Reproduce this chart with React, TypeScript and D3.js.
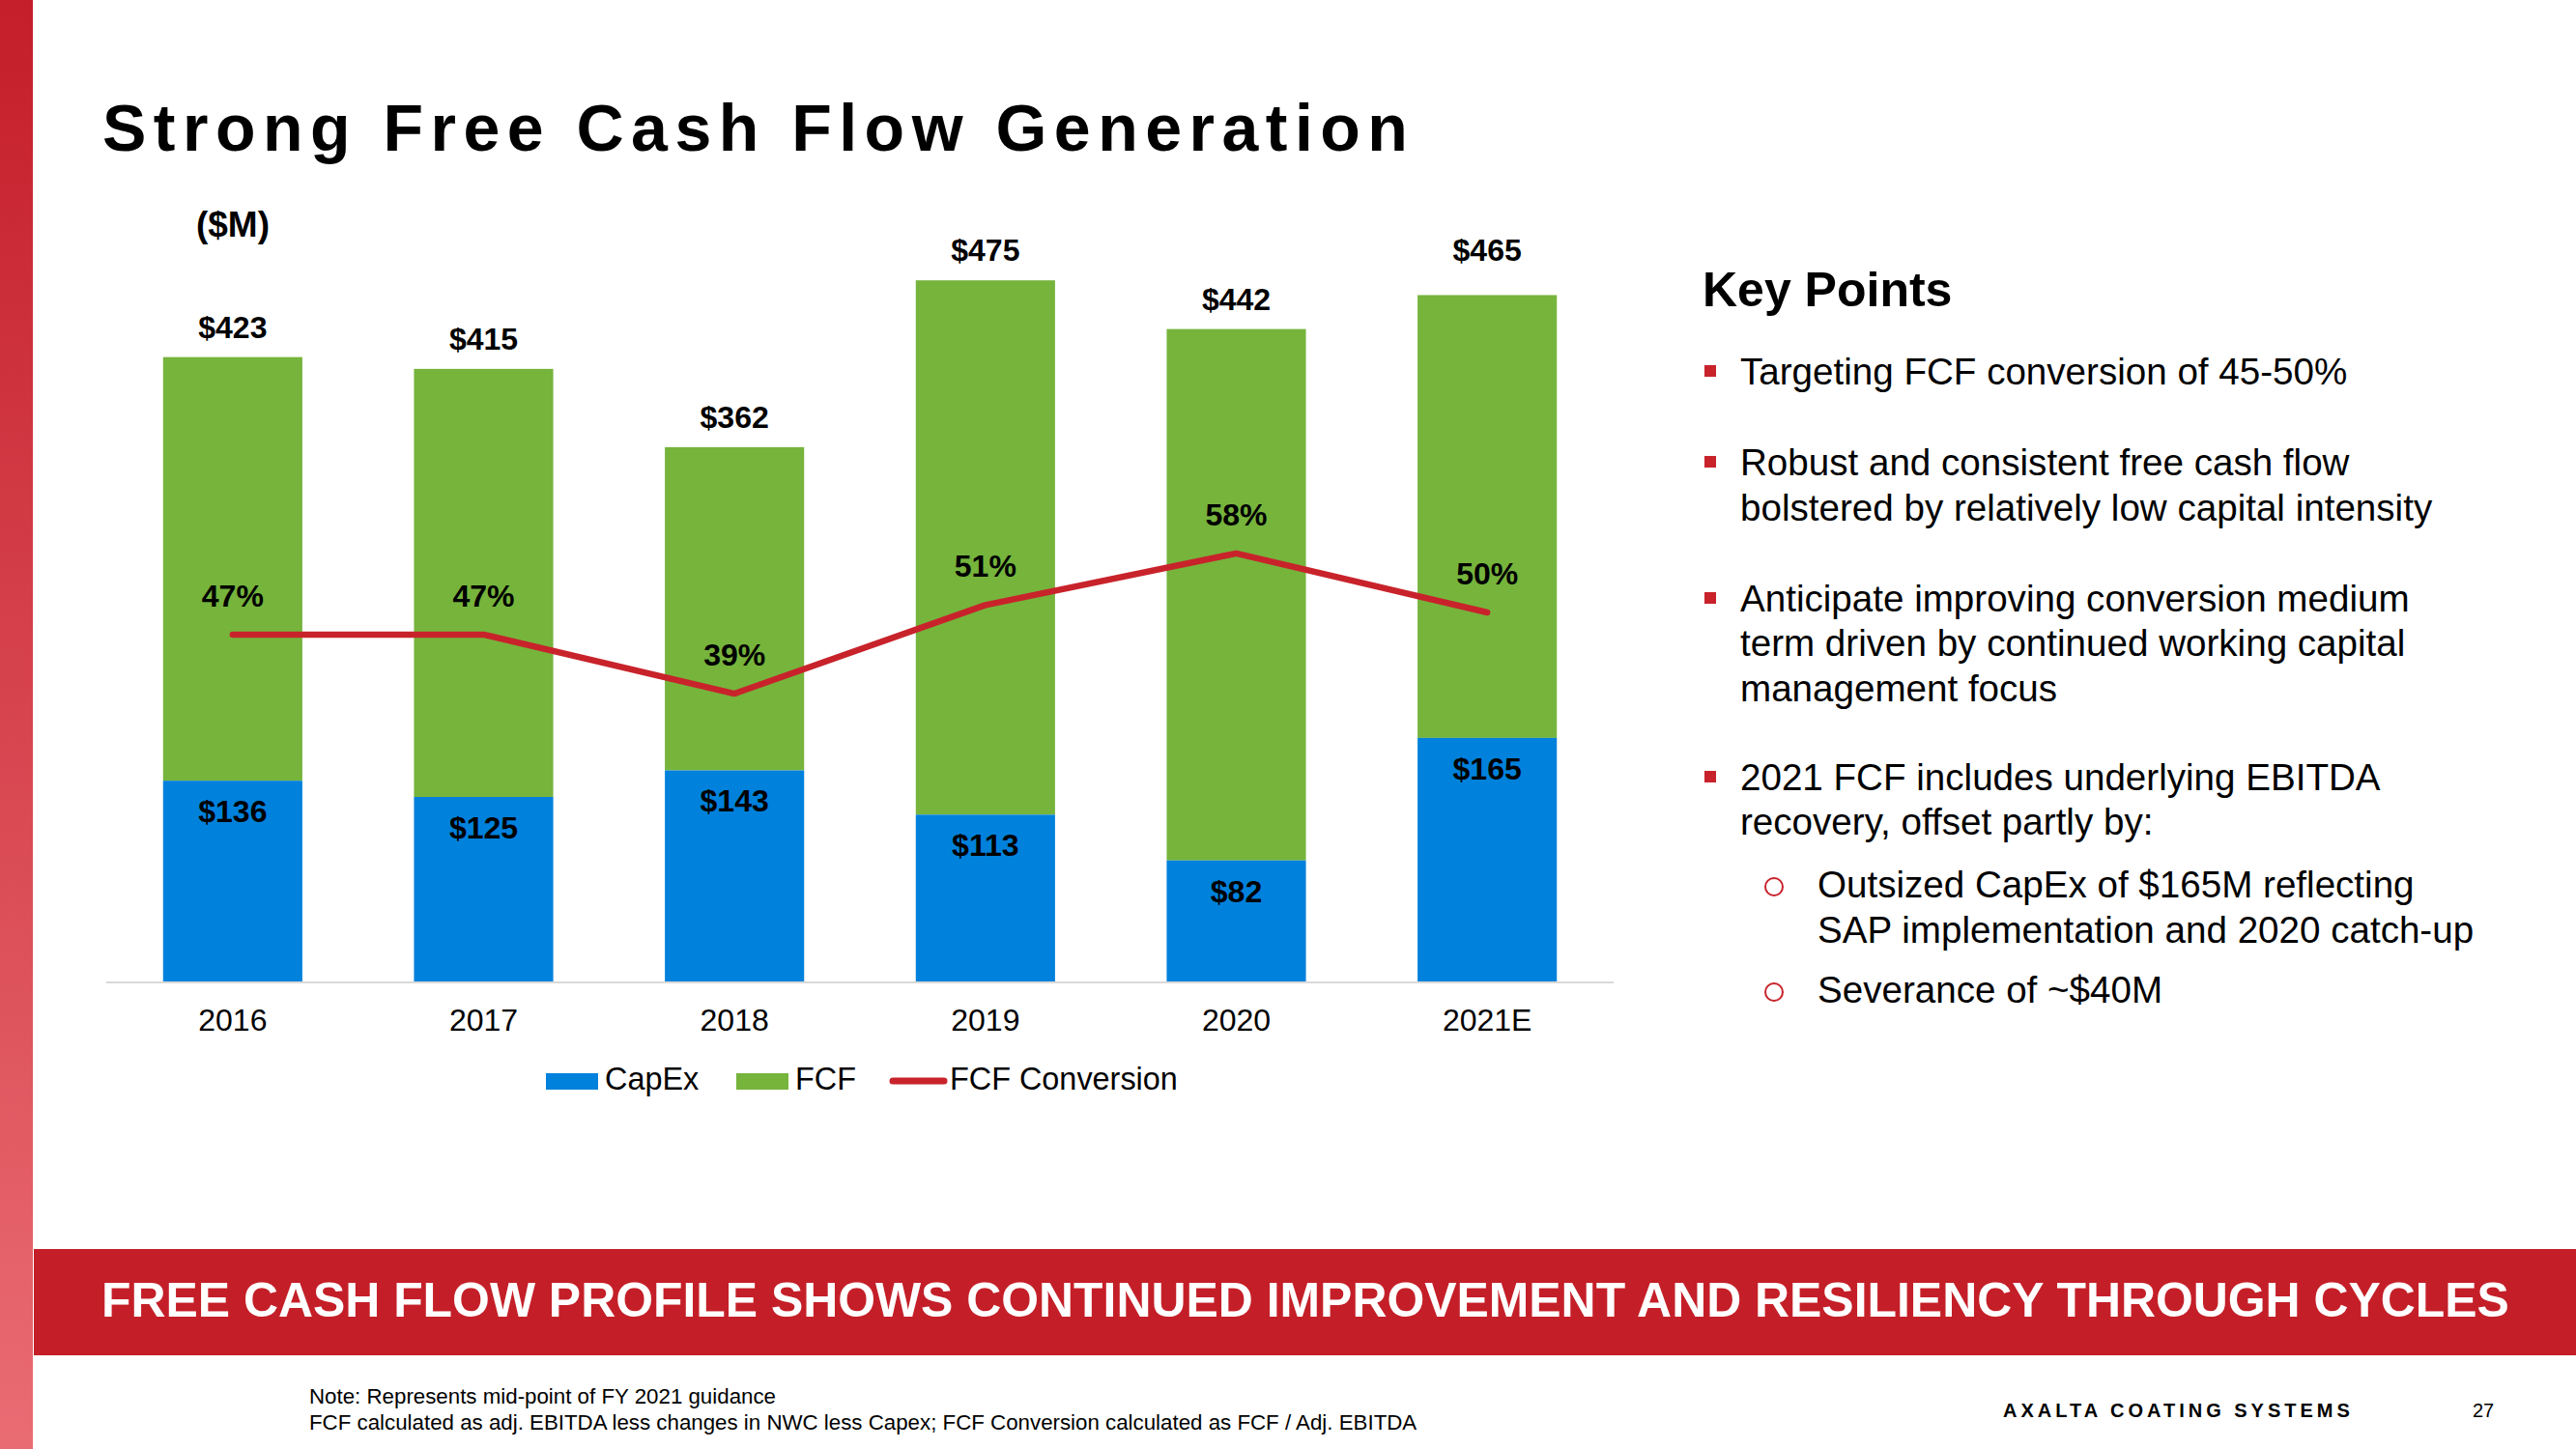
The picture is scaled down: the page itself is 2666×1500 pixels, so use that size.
import React from "react";
import * as d3 from "d3";

const years = ["2016", "2017", "2018", "2019", "2020", "2021E"];
const capex = [136, 125, 143, 113, 82, 165];
const fcf = [287, 290, 219, 362, 360, 300];
const totals = [423, 415, 362, 475, 442, 465];
const conversion = [47, 47, 39, 51, 58, 50];

const bullets = [
  ["Targeting FCF conversion of 45-50%"],
  ["Robust and consistent free cash flow", "bolstered by relatively low capital intensity"],
  ["Anticipate improving conversion medium", "term driven by continued working capital", "management focus"],
  ["2021 FCF includes underlying EBITDA", "recovery, offset partly by:"],
];
const subBullets = [
  ["Outsized CapEx of $165M reflecting", "SAP implementation and 2020 catch-up"],
  ["Severance of ~$40M"],
];

const FONT = "'Liberation Sans', Arial, Helvetica, sans-serif";
const BLUE = "#0081DC";
const GREEN = "#76B43C";
const RED = "#C8232B";
const BANNER = "#C41F28";

export default function App() {
  const W = 2666, H = 1500;
  const plotLeft = 111, plotRight = 1669, plotBottom = 1016, plotTop = 252;
  const x = d3.scaleBand<string>().domain(years).range([plotLeft, plotRight]).paddingInner(0.445).paddingOuter(0.2225);
  const y = d3.scaleLinear().domain([0, 500]).range([plotBottom, plotTop]);
  const y2 = d3.scaleLinear().domain([0, 100]).range([plotBottom, plotTop]);
  const cx = (i: number) => (x(years[i]) as number) + x.bandwidth() / 2;
  const line = d3.line<number>().x((_, i) => cx(i)).y((d) => y2(d));

  const bulletBaselines = [[398], [492, 539], [633, 679, 726], [818, 864]];
  const subBaselines = [[929, 976], [1038]];

  // the last total label sits level with the tallest one in the original
  const totalLabelY = (i: number) =>
    i === years.length - 1 ? y(capex[3] + fcf[3]) - 20 : y(capex[i] + fcf[i]) - 20;

  return (
    <svg width={W} height={H} style={{ position: "absolute", left: 0, top: 0, display: "block", background: "#fff" }} fontFamily={FONT}>
      <defs>
        <linearGradient id="stripe" x1="0" y1="0" x2="0" y2="1">
          <stop offset="0" stopColor="#C41E2A" />
          <stop offset="1" stopColor="#EA6C73" />
        </linearGradient>
      </defs>
      <rect x={0} y={0} width={W} height={H} fill="#fff" />
      <rect x={0} y={0} width={34} height={H} fill="url(#stripe)" />

      {/* Title */}
      <text x={106} y={156} fontSize={68} fontWeight="bold" letterSpacing={7.5} fill="#000">
        Strong Free Cash Flow Generation
      </text>
      <text x={241} y={245} fontSize={37} fontWeight="bold" textAnchor="middle" fill="#000">($M)</text>

      {/* Bars */}
      {years.map((yr, i) => (
        <g key={yr}>
          <rect x={x(yr)} y={y(capex[i] + fcf[i])} width={x.bandwidth()} height={y(capex[i]) - y(capex[i] + fcf[i])} fill={GREEN} />
          <rect x={x(yr)} y={y(capex[i])} width={x.bandwidth()} height={y(0) - y(capex[i])} fill={BLUE} />
          <text x={cx(i)} y={totalLabelY(i)} fontSize={32} fontWeight="bold" textAnchor="middle">${totals[i]}</text>
          <text x={cx(i)} y={y(capex[i]) + 43} fontSize={32} fontWeight="bold" textAnchor="middle">${capex[i]}</text>
          <text x={cx(i)} y={1067} fontSize={32} textAnchor="middle">{yr}</text>
        </g>
      ))}
      <line x1={plotLeft - 1} x2={plotRight + 1} y1={plotBottom + 1} y2={plotBottom + 1} stroke="#D9D9D9" strokeWidth={2} />

      {/* Conversion line */}
      <path d={line(conversion) || ""} fill="none" stroke={RED} strokeWidth={6.5} strokeLinejoin="round" strokeLinecap="round" />
      {conversion.map((c, i) => (
        <text key={i} x={cx(i)} y={y2(c) - 29} fontSize={32} fontWeight="bold" textAnchor="middle">{c}%</text>
      ))}

      {/* Legend */}
      <rect x={565} y={1111} width={54} height={17} fill={BLUE} />
      <text x={626} y={1128} fontSize={32.4}>CapEx</text>
      <rect x={762} y={1111} width={54} height={17} fill={GREEN} />
      <text x={823} y={1128} fontSize={32.4}>FCF</text>
      <line x1={924} x2={977} y1={1119} y2={1119} stroke={RED} strokeWidth={7} strokeLinecap="round" />
      <text x={983} y={1128} fontSize={32.4}>FCF Conversion</text>

      {/* Key points */}
      <text x={1762} y={317} fontSize={50} fontWeight="bold">Key Points</text>
      {bullets.map((lines, bi) => (
        <g key={bi}>
          <rect x={1764} y={bulletBaselines[bi][0] - 20} width={12} height={12} fill={RED} />
          {lines.map((l, li) => (
            <text key={li} x={1801} y={bulletBaselines[bi][li]} fontSize={38.6}>{l}</text>
          ))}
        </g>
      ))}
      {subBullets.map((lines, si) => (
        <g key={si}>
          <circle cx={1836} cy={subBaselines[si][0] - 11} r={9} fill="none" stroke={RED} strokeWidth={2} />
          {lines.map((l, li) => (
            <text key={li} x={1881} y={subBaselines[si][li]} fontSize={38.6}>{l}</text>
          ))}
        </g>
      ))}

      {/* Banner */}
      <rect x={35} y={1293} width={W - 35} height={110} fill={BANNER} />
      <text x={105} y={1363} fontSize={49.9} fontWeight="bold" fill="#fff">
        FREE CASH FLOW PROFILE SHOWS CONTINUED IMPROVEMENT AND RESILIENCY THROUGH CYCLES
      </text>

      {/* Footer */}
      <text x={320} y={1453} fontSize={22.3}>Note: Represents mid-point of FY 2021 guidance</text>
      <text x={320} y={1480} fontSize={22.3}>FCF calculated as adj. EBITDA less changes in NWC less Capex; FCF Conversion calculated as FCF / Adj. EBITDA</text>
      <text x={2073} y={1467} fontSize={20} fontWeight="bold" letterSpacing={4}>AXALTA COATING SYSTEMS</text>
      <text x={2559} y={1467} fontSize={20}>27</text>
    </svg>
  );
}
